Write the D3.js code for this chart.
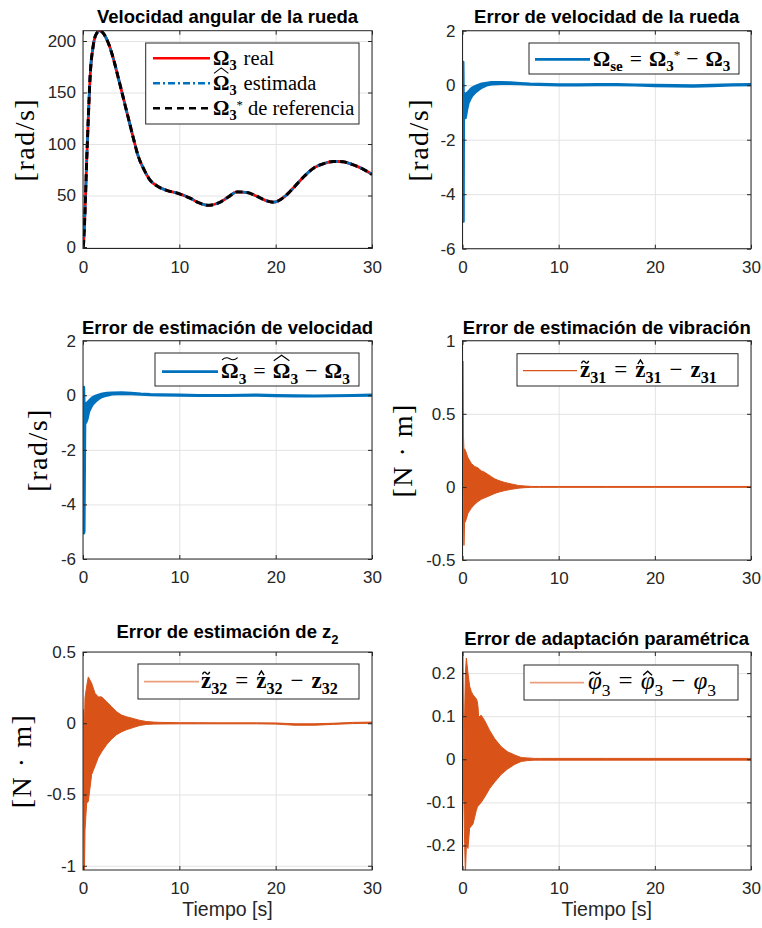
<!DOCTYPE html>
<html>
<head>
<meta charset="utf-8">
<script src="https://cdn.jsdelivr.net/npm/d3@7"></script>
<style>
  body { margin: 0; background: #fff; }
  svg { display: block; }
</style>
</head>
<body>
<svg id="fig" width="762" height="928"></svg>
<script>
// ---- data ----
const xTicks = [0, 10, 20, 30]
const xDomain = [0, 30]

// wheel angular velocity (the three curves lie on top of each other)
const tVel = [0, 0.03, 0.21, 0.38, 0.55, 0.73, 1.07, 1.42, 1.77, 2.11, 2.63, 3.15, 3.67, 4.19, 4.71, 5.22, 5.74, 6.26, 6.96, 7.65, 8.69, 9.72, 11.1, 12, 13, 14, 15, 16, 17, 18, 19, 19.8, 21, 22, 23, 24, 25, 26, 26.5, 27, 28, 29, 30]
const velReal = [0, 1, 35, 83, 125, 164, 196, 207.5, 210, 207.5, 198, 183, 164, 144.5, 125, 106, 88, 76.5, 65, 59.5, 55, 52.5, 47.5, 43, 40.5, 42.5, 48, 53.5, 53, 49.5, 45, 43.5, 49.5, 59, 69, 77, 81, 83, 83, 82.7, 80, 76, 70.5]
const velEst = velReal
const velRef = velReal

// speed error (envelope of the trace)
const tErrVel = [0, 0.03, 0.06, 0.09, 0.12, 0.2, 0.3, 0.45, 0.6, 0.8, 1.0, 1.3, 1.6, 2.0, 2.5, 3, 4, 5, 6, 7, 8, 10, 12, 14, 16, 18, 20, 22, 24, 26, 28, 30]
const errVelHi = [0, 0.85, 0.85, -0.3, -0.3, -0.3, -0.35, -0.3, -0.25, -0.17, -0.1, -0.05, 0, 0.05, 0.08, 0.1, 0.1, 0.09, 0.07, 0.05, 0.04, 0.02, 0.02, 0.03, 0.03, 0.01, 0.0, -0.01, -0.02, 0.0, 0.02, 0.03]
const errVelLo = [0, 0, -5.0, -5.0, -1.2, -1.2, -1.2, -0.9, -0.65, -0.5, -0.38, -0.27, -0.18, -0.08, 0.0, 0.04, 0.06, 0.06, 0.05, 0.03, 0.02, 0.0, 0.0, 0.01, 0.01, 0.0, -0.02, -0.03, -0.04, -0.02, 0.0, 0.01]

// speed estimation error
const tEstVel = [0, 0.04, 0.08, 0.12, 0.2, 0.3, 0.45, 0.6, 0.8, 1.0, 1.3, 1.6, 2.0, 2.5, 3, 4, 5, 6, 7, 8, 10, 12, 15, 18, 20, 22, 24, 26, 28, 30]
const estVelHi = [0, 0.3, 0.3, -0.3, -0.3, -0.3, -0.28, -0.22, -0.15, -0.08, -0.03, 0.01, 0.05, 0.08, 0.09, 0.1, 0.08, 0.05, 0.03, 0.02, 0.01, 0.0, 0.0, 0.01, 0.0, -0.01, -0.02, -0.01, 0.0, 0.01]
const estVelLo = [0, -0.2, -5.05, -5.0, -1.0, -1.0, -0.85, -0.6, -0.45, -0.33, -0.22, -0.13, -0.05, 0.0, 0.04, 0.06, 0.05, 0.03, 0.02, 0.01, 0.0, -0.01, -0.01, 0.0, -0.02, -0.03, -0.03, -0.02, -0.01, 0.0]

// vibration estimation error z31
const tZ31 = [0, 0.03, 0.06, 0.1, 0.15, 0.22, 0.3, 0.57, 0.92, 1.26, 1.61, 1.95, 2.3, 2.65, 3.0, 3.35, 3.7, 4.4, 5.1, 5.8, 6.5, 7.2, 8, 10, 15, 20, 25, 30]
const z31Hi = [0.35, 0.86, 0.86, 0.35, 0.25, 0.26, 0.25, 0.2, 0.16, 0.14, 0.13, 0.11, 0.1, 0.085, 0.07, 0.055, 0.045, 0.03, 0.02, 0.01, 0.006, 0.003, 0.003, 0.003, 0.003, 0.003, 0.003, 0.003]
const z31Lo = [0, 0.35, 0.0, -0.2, -0.4, -0.24, -0.24, -0.18, -0.145, -0.12, -0.1, -0.085, -0.075, -0.065, -0.055, -0.045, -0.037, -0.025, -0.016, -0.009, -0.005, -0.003, -0.003, -0.003, -0.003, -0.003, -0.003, -0.003]

// z2 estimation error z32
const tZ32 = [0, 0.05, 0.1, 0.15, 0.21, 0.38, 0.55, 0.9, 1.25, 1.59, 1.94, 2.46, 2.98, 3.49, 4.01, 4.53, 5.22, 5.92, 6.61, 7.3, 8, 10, 12, 14, 16, 18, 20, 22, 24, 26, 28, 30]
const z32Hi = [0.1, 0.09, 0.0, 0.0, 0.18, 0.26, 0.325, 0.28, 0.21, 0.185, 0.185, 0.15, 0.115, 0.08, 0.057, 0.045, 0.033, 0.02, 0.012, 0.008, 0.006, 0.004, 0.004, 0.003, 0.003, 0.003, 0.002, -0.004, -0.004, 0.0, 0.006, 0.008]
const z32Lo = [0.0, -0.3, -1.04, -1.04, -0.75, -0.56, -0.55, -0.36, -0.3, -0.24, -0.2, -0.15, -0.11, -0.08, -0.06, -0.045, -0.03, -0.015, -0.008, -0.006, -0.005, -0.004, -0.004, -0.004, -0.004, -0.004, -0.006, -0.014, -0.014, -0.008, -0.002, 0.0]

// parametric adaptation error
const tPhi = [0, 0.05, 0.15, 0.22, 0.3, 0.4, 0.57, 0.74, 0.92, 1.09, 1.26, 1.44, 1.54, 1.62, 1.68, 1.95, 2.3, 2.82, 3.34, 4.03, 4.72, 5.42, 6.11, 6.8, 7.5, 8, 10, 15, 20, 25, 30]
const phiHi = [0.25, 0.25, -0.02, 0.1, 0.2, 0.235, 0.2, 0.17, 0.157, 0.15, 0.145, 0.14, 0.134, 0.12, 0.098, 0.102, 0.09, 0.067, 0.048, 0.029, 0.017, 0.01, 0.004, 0.003, 0.002, 0.002, 0.002, 0.002, 0.002, 0.002, 0.002]
const phiLo = [-0.08, -0.08, -0.1, -0.195, -0.27, -0.2, -0.207, -0.16, -0.155, -0.15, -0.135, -0.118, -0.112, -0.108, -0.107, -0.1, -0.088, -0.068, -0.053, -0.035, -0.022, -0.012, -0.005, -0.003, -0.002, -0.002, -0.002, -0.002, -0.002, -0.002, -0.002]

const velTicks = [0, 50, 100, 150, 200]
const radTicks = [-6, -4, -2, 0, 2]
const z31Ticks = [-0.5, 0, 0.5, 1]
const z32Ticks = [-1, -0.5, 0, 0.5]
const phiTicks = [-0.2, -0.1, 0, 0.1, 0.2]

const blue = '#0072bd'
const orange = '#d95319'
const SANS = 'Liberation Sans, Arial, Helvetica, sans-serif'
const SERIF = 'Liberation Serif, Times New Roman, DejaVu Serif, serif'

const svg = d3.select('#fig')
const defs = svg.append('defs')

// rich text for the LaTeX-like legend entries
function richText(g, x, y, segs, size) {
  const txt = g.append('text').attr('x', x).attr('y', y)
    .attr('font-family', SERIF).attr('font-size', size).attr('fill', '#000')
  let shift = 0
  let idx = 0
  const accents = []
  segs.forEach(s => {
    const target = s.sub ? size * 0.26 : s.sup ? -size * 0.3 : 0
    const small = s.sub || s.sup
    txt.append('tspan')
      .attr('dy', target - shift)
      .attr('dx', s.dx || 0)
      .attr('font-size', small ? size * (s.sup ? 0.62 : 0.7) : size)
      .attr('font-weight', s.b ? 'bold' : 'normal')
      .attr('font-style', s.i ? 'italic' : 'normal')
      .text(s.t)
    if (s.acc) accents.push({ idx: idx, acc: s.acc, tall: s.t === 'Ω' })
    idx += s.t.length
    shift = target
  })
  accents.forEach(a => {
    const e = txt.node().getExtentOfChar(a.idx)
    const top = y - (a.tall ? 0.68 : 0.46) * size
    const x0 = e.x + (a.tall ? 1 : 1.5), x1 = e.x + e.width - (a.tall ? 1 : 1.5)
    const xm = (x0 + x1) / 2
    let d
    if (a.acc === 'hat') d = `M${x0},${top - 2.5} L${xm},${top - 8} L${x1},${top - 2.5}`
    else if (a.acc === 'shat') d = `M${x0 + 1},${top - 2.5} L${xm},${top - 6.5} L${x1 - 1},${top - 2.5}`
    else {
      const yy = top - 4.5, w = x1 - x0
      d = `M${x0},${yy + 1.2} Q${x0 + w * 0.25},${yy - 2.5} ${xm},${yy} T${x1},${yy - 1.2}`
    }
    g.append('path').attr('d', d).attr('fill', 'none').attr('stroke', '#000')
      .attr('stroke-width', a.tall ? 1.1 : 1.4)
  })
}

function legend(g, box, rows, size) {
  g.append('rect').attr('x', box.x0).attr('y', box.y0)
    .attr('width', box.x1 - box.x0).attr('height', box.y1 - box.y0)
    .attr('fill', '#fff').attr('stroke', '#262626').attr('stroke-width', 1)
  rows.forEach(r => {
    g.append('line').attr('x1', box.lx0).attr('x2', box.lx1).attr('y1', r.y).attr('y2', r.y)
      .attr('stroke', r.color).attr('stroke-width', r.w).attr('stroke-dasharray', r.dash || null)
    richText(g, box.tx, r.y + 6.5, r.segs, size)
  })
}

const panels = [
  {
    x0: 83, x1: 372, y0: 30.7, y1: 248.5, ydom: [-1.45, 210], yticks: velTicks,
    title: 'Velocidad angular de la rueda', tby: 23, ylabel: '[rad/s]', ylx: 34,
    draw: (g, x, y) => {
      const line = d3.line().x(d => x(d[0])).y(d => y(d[1])).curve(d3.curveMonotoneX)
      g.append('path').attr('d', line(d3.zip(tVel, velReal))).attr('fill', 'none')
        .attr('stroke', '#ff0000').attr('stroke-width', 2.8)
      g.append('path').attr('d', line(d3.zip(tVel, velEst))).attr('fill', 'none')
        .attr('stroke', blue).attr('stroke-width', 2.8).attr('stroke-dasharray', '7,3,2,3')
      g.append('path').attr('d', line(d3.zip(tVel, velRef))).attr('fill', 'none')
        .attr('stroke', '#000').attr('stroke-width', 3).attr('stroke-dasharray', '7,4')
    },
    legend: g => legend(g, { x0: 145.7, x1: 359, y0: 43, y1: 124, lx0: 153, lx1: 210, tx: 213 }, [
      { y: 58.3, color: '#ff0000', w: 2.4, segs: [{ t: 'Ω', b: 1 }, { t: '3', b: 1, sub: 1 }, { t: 'real', dx: 7 }] },
      { y: 83.3, color: blue, w: 2.4, dash: '7,3,2,3', segs: [{ t: 'Ω', b: 1, acc: 'hat' }, { t: '3', b: 1, sub: 1 }, { t: 'estimada', dx: 7 }] },
      { y: 108.3, color: '#000', w: 2.6, dash: '7,5', segs: [{ t: 'Ω', b: 1 }, { t: '3', b: 1, sub: 1 }, { t: '*', sup: 1, dx: 0 }, { t: 'de referencia', dx: 5 }] }
    ], 20.5)
  },
  {
    x0: 462.5, x1: 751, y0: 30.7, y1: 248.7, ydom: [-6, 2], yticks: radTicks,
    title: 'Error de velocidad de la rueda', tby: 23, ylabel: '[rad/s]', ylx: 428,
    draw: (g, x, y) => envelope(g, x, y, tErrVel, errVelLo, errVelHi, blue, 2.8),
    legend: g => legend(g, { x0: 529, x1: 739, y0: 43, y1: 74, lx0: 535, lx1: 590, tx: 593 }, [
      { y: 59.3, color: blue, w: 2.8, segs: [{ t: 'Ω', b: 1 }, { t: 'se', b: 1, sub: 1 }, { t: '=', dx: 7 }, { t: 'Ω', b: 1, dx: 7 }, { t: '3', b: 1, sub: 1 }, { t: '*', sup: 1, dx: 0 }, { t: '−', dx: 6 }, { t: 'Ω', b: 1, dx: 7 }, { t: '3', b: 1, sub: 1 }] }
    ], 21.5)
  },
  {
    x0: 83, x1: 372, y0: 340.7, y1: 559, ydom: [-6, 2], yticks: radTicks,
    title: 'Error de estimación de velocidad', tby: 334, ylabel: '[rad/s]', ylx: 47,
    draw: (g, x, y) => envelope(g, x, y, tEstVel, estVelLo, estVelHi, blue, 2.8),
    legend: g => legend(g, { x0: 155, x1: 359, y0: 353, y1: 386, lx0: 162, lx1: 218, tx: 221 }, [
      { y: 371.7, color: blue, w: 2.8, segs: [{ t: 'Ω', b: 1, acc: 'tilde' }, { t: '3', b: 1, sub: 1 }, { t: '=', dx: 7 }, { t: 'Ω', b: 1, acc: 'hat', dx: 7 }, { t: '3', b: 1, sub: 1 }, { t: '−', dx: 7 }, { t: 'Ω', b: 1, dx: 7 }, { t: '3', b: 1, sub: 1 }] }
    ], 22)
  },
  {
    x0: 462.5, x1: 751, y0: 340.7, y1: 560, ydom: [-0.5, 1], yticks: z31Ticks,
    title: 'Error de estimación de vibración', tby: 334, ylabel: '[N · m]', ylx: 412,
    draw: (g, x, y) => envelope(g, x, y, tZ31, z31Lo, z31Hi, orange, 1),
    legend: g => legend(g, { x0: 517, x1: 738, y0: 353.7, y1: 386, lx0: 523, lx1: 577, tx: 580 }, [
      { y: 370.7, color: orange, w: 1.2, segs: [{ t: 'z', b: 1, acc: 'tilde' }, { t: '31', b: 1, sub: 1 }, { t: '=', dx: 8 }, { t: 'z', b: 1, acc: 'shat', dx: 8 }, { t: '31', b: 1, sub: 1 }, { t: '−', dx: 8 }, { t: 'z', b: 1, dx: 8 }, { t: '31', b: 1, sub: 1 }] }
    ], 23)
  },
  {
    x0: 83, x1: 372, y0: 652, y1: 870, ydom: [-1.03, 0.5], yticks: z32Ticks,
    title: 'Error de estimación de z', titleSub: '2', tby: 638, ylabel: '[N · m]', ylx: 31, xlabel: 'Tiempo [s]',
    draw: (g, x, y) => envelope(g, x, y, tZ32, z32Lo, z32Hi, orange, 1),
    legend: g => legend(g, { x0: 138, x1: 359, y0: 664, y1: 699, lx0: 144, lx1: 199, tx: 201 }, [
      { y: 681.7, color: '#eb9f7d', w: 1.8, segs: [{ t: 'z', b: 1, acc: 'tilde' }, { t: '32', b: 1, sub: 1 }, { t: '=', dx: 8 }, { t: 'z', b: 1, acc: 'shat', dx: 8 }, { t: '32', b: 1, sub: 1 }, { t: '−', dx: 8 }, { t: 'z', b: 1, dx: 8 }, { t: '32', b: 1, sub: 1 }] }
    ], 23)
  },
  {
    x0: 462.5, x1: 751, y0: 652, y1: 870, ydom: [-0.257, 0.249], yticks: phiTicks,
    title: 'Error de adaptación paramétrica', tby: 645, xlabel: 'Tiempo [s]',
    draw: (g, x, y) => envelope(g, x, y, tPhi, phiLo, phiHi, orange, 1),
    legend: g => legend(g, { x0: 524, x1: 738, y0: 665, y1: 700, lx0: 530, lx1: 584, tx: 588 }, [
      { y: 682.7, color: '#eb9f7d', w: 1.8, segs: [{ t: 'φ', i: 1, acc: 'tilde' }, { t: '3', sub: 1 }, { t: '=', dx: 8 }, { t: 'φ', i: 1, acc: 'shat', dx: 8 }, { t: '3', sub: 1 }, { t: '−', dx: 8 }, { t: 'φ', i: 1, dx: 8 }, { t: '3', sub: 1 }] }
    ], 25)
  }
]

// dense oscillating traces drawn as the band between their read envelopes
function envelope(g, x, y, t, lo, hi, color, w) {
  const area = d3.area().x(d => x(d[0])).y0(d => y(d[1])).y1(d => y(d[2]))
  g.append('path').attr('d', area(d3.zip(t, lo, hi)))
    .attr('fill', color).attr('stroke', color).attr('stroke-width', w)
    .attr('stroke-linejoin', 'round')
}

panels.forEach((p, i) => {
  const x = d3.scaleLinear().domain(xDomain).range([p.x0, p.x1])
  const y = d3.scaleLinear().domain(p.ydom).range([p.y1, p.y0])
  const w = p.x1 - p.x0, h = p.y1 - p.y0
  const g = svg.append('g')

  defs.append('clipPath').attr('id', 'clip' + i)
    .append('rect').attr('x', p.x0).attr('y', p.y0).attr('width', w).attr('height', h)

  // grid
  const gx = g.append('g').attr('transform', `translate(0,${p.y1})`)
    .call(d3.axisBottom(x).tickValues(xTicks).tickSize(-h).tickFormat(''))
  const gy = g.append('g').attr('transform', `translate(${p.x0},0)`)
    .call(d3.axisLeft(y).tickValues(p.yticks).tickSize(-w).tickFormat(''))
  ;[gx, gy].forEach(a => {
    a.select('.domain').remove()
    a.selectAll('line').attr('stroke', '#e3e3e3').attr('stroke-width', 1)
  })

  const plot = g.append('g').attr('clip-path', `url(#clip${i})`)
  p.draw(plot, x, y)

  // box
  g.append('rect').attr('x', p.x0).attr('y', p.y0).attr('width', w).attr('height', h)
    .attr('fill', 'none').attr('stroke', '#262626').attr('stroke-width', 1)

  // axes with inward ticks on all sides
  const axes = [
    g.append('g').attr('transform', `translate(0,${p.y1})`)
      .call(d3.axisBottom(x).tickValues(xTicks).tickSize(-4).tickPadding(12).tickFormat(d => String(d))),
    g.append('g').attr('transform', `translate(${p.x0},0)`)
      .call(d3.axisLeft(y).tickValues(p.yticks).tickSize(-4).tickPadding(7).tickFormat(d => String(d))),
    g.append('g').attr('transform', `translate(0,${p.y0})`)
      .call(d3.axisTop(x).tickValues(xTicks).tickSize(-4).tickFormat('')),
    g.append('g').attr('transform', `translate(${p.x1},0)`)
      .call(d3.axisRight(y).tickValues(p.yticks).tickSize(-4).tickFormat(''))
  ]
  axes.forEach(a => {
    a.select('.domain').remove()
    a.selectAll('line').attr('stroke', '#262626')
    a.selectAll('text').attr('font-family', SANS).attr('font-size', 17).attr('fill', '#262626')
  })

  // title
  const tt = g.append('text').attr('x', (p.x0 + p.x1) / 2).attr('y', p.tby)
    .attr('text-anchor', 'middle').attr('font-family', SANS).attr('font-weight', 'bold')
    .attr('font-size', 18.5).attr('fill', '#000').text(p.title)
  if (p.titleSub) tt.append('tspan').attr('dy', 6).attr('font-size', 13).text(p.titleSub)

  // y label
  if (p.ylabel) {
    g.append('text').attr('transform', `translate(${p.ylx},${(p.y0 + p.y1) / 2}) rotate(-90)`)
      .attr('text-anchor', 'middle').attr('font-family', SERIF).attr('font-size', 28)
      .attr('letter-spacing', 1.5).attr('fill', '#000').text(p.ylabel)
  }
  if (p.xlabel) {
    g.append('text').attr('x', (p.x0 + p.x1) / 2).attr('y', 916)
      .attr('text-anchor', 'middle').attr('font-family', SANS).attr('font-size', 19.5)
      .attr('fill', '#262626').text(p.xlabel)
  }

  p.legend(g)
})
</script>
</body>
</html>
